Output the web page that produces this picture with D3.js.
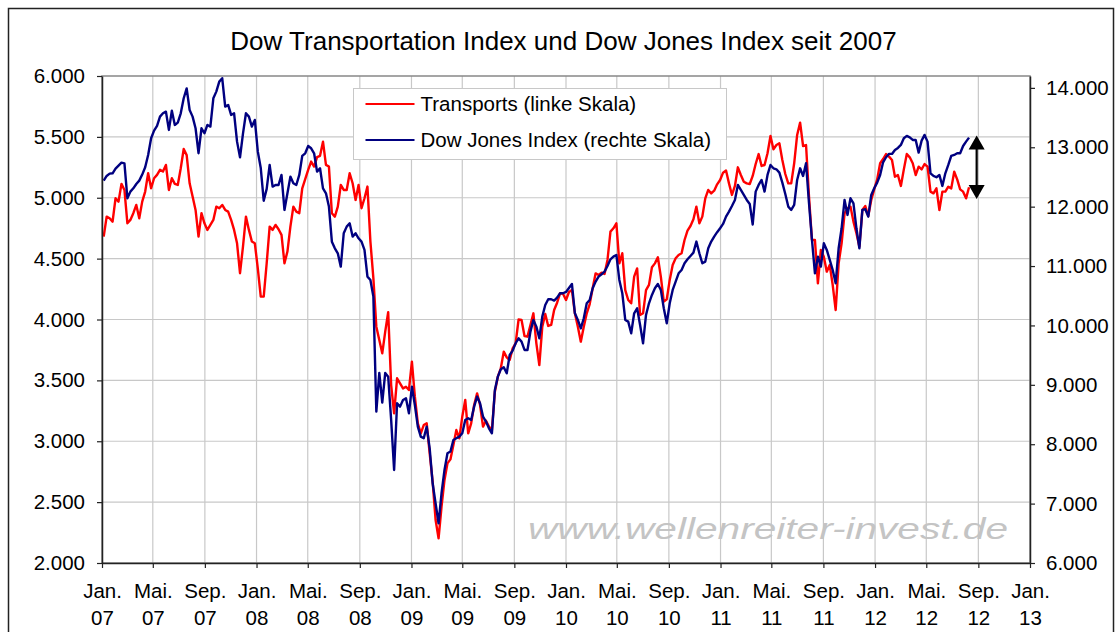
<!DOCTYPE html>
<html>
<head>
<meta charset="utf-8">
<script src="https://cdn.jsdelivr.net/npm/d3@7"></script>
<style>
  body { margin: 0; background: #fff; }
  svg { display: block; font-family: "Liberation Sans", Arial, sans-serif; }
</style>
</head>
<body>
<div id="chart"></div>
<script>
/* global d3 */

// weekly closes (Fridays), starting with the first week of 2007
const firstWeek = '2007-01-05'

const transports = [
  4681, 4845, 4832, 4804, 4996, 4968, 5114, 5064, 4790, 4818,
  4873, 4941, 4832, 4968, 5051, 5201, 5078, 5160, 5188, 5229,
  5215, 5270, 5064, 5160, 5114, 5105, 5242, 5400, 5350, 5119,
  5010, 4900, 4681, 4873, 4790, 4736, 4777, 4818, 4927, 4914,
  4941, 4900, 4886, 4818, 4736, 4626, 4380, 4599, 4845, 4736,
  4640, 4626, 4420, 4188, 4188, 4462, 4763, 4736, 4777, 4741,
  4695, 4462, 4558, 4763, 4927, 4886, 4873, 5078, 5152, 5229,
  5297, 5256, 5333, 5344, 5461, 5270, 5256, 4873, 4845, 4927,
  5105, 5064, 5064, 5201, 5119, 4982, 5105, 4914, 4996, 5092,
  4640, 4340, 3941, 3831, 3722, 3900, 4060, 3462, 3229, 3517,
  3476, 3434, 3448, 3421, 3654, 3366, 3147, 3065, 3133, 3147,
  2900, 2668, 2353, 2202, 2462, 2682, 2818, 2851, 2969, 3092,
  3024, 3202, 3339, 3065, 3147, 3298, 3393, 3298, 3120, 3169,
  3120, 3092, 3407, 3530, 3599, 3736, 3689, 3667, 3763, 3804,
  4000, 3996, 3864, 3859, 3955, 4051, 3804, 3626, 3941, 4045,
  3947, 3955, 4078, 4138, 4215, 4212, 4160, 4226, 4242, 4051,
  3941, 3818, 3941, 4051, 4127, 4256, 4379, 4366, 4385, 4374,
  4489, 4722, 4749, 4790, 4461, 4544, 4242, 4160, 4133, 4352,
  4420, 4037, 4051, 4242, 4284, 4429, 4461, 4511, 4352, 4147,
  4166, 4325, 4448, 4503, 4530, 4544, 4653, 4730, 4768, 4823,
  4927, 4790, 4845, 4995, 5064, 5036, 5058, 5110, 5146, 5206,
  5223, 5118, 5023, 5097, 5250, 5187, 5132, 5118, 5113, 5179,
  5277, 5359, 5261, 5269, 5365, 5507, 5398, 5433, 5447, 5310,
  5195, 5118, 5118, 5283, 5516, 5617, 5425, 5433, 5009, 4653,
  4653, 4297, 4571, 4516, 4393, 4448, 4283, 4078, 4461, 4626,
  4872, 4913, 4927, 4804, 4708, 4598, 4899, 4932, 4850, 4982,
  5069, 5151, 5283, 5318, 5359, 5338, 5310, 5173, 5187, 5097,
  5233, 5359, 5332, 5283, 5187, 5255, 5233, 5277, 5255, 5050,
  5036, 5077, 4899, 5050, 5050, 5091, 5077, 5214, 5151, 5069,
  5050, 4995, 5086
]

const dowJones = [
  12438, 12517, 12556, 12562, 12641, 12691, 12742, 12730, 12141, 12253,
  12309, 12382, 12438, 12540, 12663, 12871, 13151, 13280, 13359, 13516,
  13572, 13600, 13292, 13617, 13376, 13415, 13572, 13825, 13990, 13628,
  13516, 13320, 12900, 13320, 13236, 13376, 13348, 13825, 13937, 14106,
  14162, 13685, 13713, 13544, 13572, 13095, 12830, 13230, 13572, 13516,
  13348, 13460, 12930, 12650, 12100, 12300, 12702, 12337, 12365, 12365,
  12534, 11945, 12225, 12506, 12394, 12365, 12534, 12854, 12899, 13022,
  12983, 12899, 12590, 12646, 12309, 12225, 12001, 11411, 11299, 11215,
  10990, 11552, 11664, 11720, 11496, 11552, 11467, 11411, 11271, 10822,
  10766, 10485, 8550, 9200, 8700, 9200, 9138, 8409, 7567, 8689,
  8633, 8745, 8773, 8521, 8970, 8661, 8296, 8128, 8100, 8296,
  7931, 7342, 7005, 6669, 7174, 7567, 7847, 7876, 8072, 8100,
  8128, 8184, 8409, 8437, 8409, 8633, 8802, 8689, 8465, 8381,
  8268, 8184, 8914, 9138, 9262, 9296, 9194, 9503, 9576, 9700,
  9784, 9728, 9587, 9587, 9896, 10093, 9980, 9784, 10149, 10345,
  10441, 10441, 10418, 10469, 10542, 10542, 10564, 10631, 10699, 10205,
  10093, 9952, 10121, 10373, 10429, 10626, 10738, 10822, 10862, 10906,
  11002, 11114, 11159, 11187, 10766, 10542, 10093, 10064, 9868, 10205,
  10289, 10008, 9700, 10177, 10373, 10514, 10626, 10699, 10598, 10289,
  10036, 10373, 10598, 10738, 10878, 10934, 11047, 11114, 11170, 11226,
  11412, 11215, 11047, 11075, 11299, 11412, 11496, 11570, 11636, 11709,
  11832, 11917, 12012, 12113, 12366, 12281, 12197, 12113, 12046, 11700,
  12253, 12366, 12450, 12253, 12534, 12702, 12646, 12629, 12573, 12405,
  12214, 12001, 11945, 12029, 12450, 12646, 12517, 12731, 12057, 11440,
  10878, 11159, 10990, 11383, 11271, 11103, 10934, 10710, 11299, 11636,
  12113, 11861, 12141, 12057, 11636, 11299, 11945, 11956, 11832, 12197,
  12310, 12405, 12534, 12747, 12832, 12888, 12888, 12955, 12989, 13039,
  13151, 13191, 13168, 13123, 13123, 12910, 13112, 13208, 13095, 12562,
  12517, 12495, 12534, 12349, 12562, 12702, 12854, 12871, 12899, 12899,
  13022, 13095, 13163
]

const leftTicks = [2000, 2500, 3000, 3500, 4000, 4500, 5000, 5500, 6000]
const rightTicks = [6000, 7000, 8000, 9000, 10000, 11000, 12000, 13000, 14000]
const monthNames = ['Jan.', 'Mai.', 'Sep.']
const seriesNames = ['Transports (linke Skala)', 'Dow Jones Index (rechte Skala)']
const chartTitle = 'Dow Transportation Index und Dow Jones Index seit 2007'
const watermark = 'www.wellenreiter-invest.de'

// spread arrow: date, Dow level (right scale) and Transports level (left scale)
const spreadDate = '2012-08-28'
const spreadDow = 13200
const spreadTrans = 4990

// Our canvas
const width = 1115,
      height = 632,
      plotLeft = 102,
      plotRight = 1030,
      plotTop = 76,
      plotBottom = 563

const svg = d3.select('#chart')
  .append('svg')
  .attr('width', width)
  .attr('height', height)

const de = d3.formatLocale({ decimal: ',', thousands: '.', grouping: [3], currency: ['', ' €'] })
const fmt = de.format(',.0f')
const parse = d3.utcParse('%Y-%m-%d')

const start = parse(firstWeek)
const weeks = transports.map((d, i) => d3.utcDay.offset(start, i * 7))

// Scales
const x = d3.scaleUtc()
  .domain([new Date(Date.UTC(2007, 0, 1)), new Date(Date.UTC(2013, 0, 1))])
  .range([plotLeft, plotRight])

const yLeft = d3.scaleLinear()
  .domain([2000, 6000])
  .range([plotBottom, plotTop])

const yRight = d3.scaleLinear()
  .domain([6000, 14200])
  .range([plotBottom, plotTop])

const xTicks = d3.utcMonth.every(4).range(x.domain()[0], d3.utcDay.offset(x.domain()[1], 1))

// outer frame
svg.append('rect')
  .attr('x', 8.5).attr('y', 8.5)
  .attr('width', 1105).attr('height', 700)
  .attr('fill', '#fff')
  .attr('stroke', '#222')
  .attr('stroke-width', 1.5)

// title
svg.append('text')
  .attr('x', 563.5).attr('y', 50)
  .attr('text-anchor', 'middle')
  .attr('font-size', 26)
  .attr('fill', '#000')
  .text(chartTitle)

// gridlines
const grid = svg.append('g')
  .attr('stroke', '#c8c8c8')
  .attr('stroke-width', 1.2)

grid.selectAll('.h')
  .data(leftTicks.slice(1, -1))
  .enter().append('line')
  .attr('x1', plotLeft).attr('x2', plotRight)
  .attr('y1', d => yLeft(d)).attr('y2', d => yLeft(d))

grid.selectAll('.v')
  .data(xTicks.slice(1, -1))
  .enter().append('line')
  .attr('y1', plotTop).attr('y2', plotBottom)
  .attr('x1', d => x(d)).attr('x2', d => x(d))

// plot border (top edge shows in grey)
svg.append('rect')
  .attr('x', plotLeft).attr('y', plotTop)
  .attr('width', plotRight - plotLeft).attr('height', plotBottom - plotTop)
  .attr('fill', 'none')
  .attr('stroke', '#888')
  .attr('stroke-width', 1.5)

// watermark
svg.append('text')
  .attr('x', 528).attr('y', 539)
  .attr('font-size', 30)
  .attr('font-style', 'italic')
  .attr('fill', '#c4c4c4')
  .attr('textLength', 480)
  .attr('lengthAdjust', 'spacingAndGlyphs')
  .text(watermark)

// lines
const transLine = d3.line()
  .x((d, i) => x(weeks[i]))
  .y(d => yLeft(d))

const dowLine = d3.line()
  .x((d, i) => x(weeks[i]))
  .y(d => yRight(d))

svg.append('path')
  .datum(transports)
  .attr('fill', 'none')
  .attr('stroke', '#ff0000')
  .attr('stroke-width', 2.4)
  .attr('stroke-linejoin', 'round')
  .attr('d', transLine)

svg.append('path')
  .datum(dowJones)
  .attr('fill', 'none')
  .attr('stroke', '#000080')
  .attr('stroke-width', 2.4)
  .attr('stroke-linejoin', 'round')
  .attr('d', dowLine)

// axes
const styleAxis = g => {
  g.select('.domain').attr('stroke', '#222').attr('stroke-width', 1.5)
  g.selectAll('.tick line').attr('stroke', '#222').attr('stroke-width', 1.2)
  g.selectAll('.tick text')
    .attr('font-family', '"Liberation Sans", Arial, sans-serif')
    .attr('font-size', 20.5)
    .attr('fill', '#000')
}

svg.append('g')
  .attr('transform', `translate(${plotLeft},0)`)
  .call(d3.axisLeft(yLeft)
    .tickValues(leftTicks)
    .tickFormat(fmt)
    .tickSize(5)
    .tickSizeOuter(0)
    .tickPadding(12))
  .call(styleAxis)

svg.append('g')
  .attr('transform', `translate(${plotRight},0)`)
  .call(d3.axisRight(yRight)
    .tickValues(rightTicks)
    .tickFormat(fmt)
    .tickSize(5)
    .tickSizeOuter(0)
    .tickPadding(11))
  .call(styleAxis)

const xAxis = svg.append('g')
  .attr('transform', `translate(0,${plotBottom})`)
  .call(d3.axisBottom(x)
    .tickValues(xTicks)
    .tickSize(5)
    .tickSizeOuter(0)
    .tickFormat(''))
  .call(styleAxis)

// two-line month / year labels
xAxis.selectAll('.tick text').each(function (d) {
  const t = d3.select(this).attr('y', null).attr('dy', null)
  t.append('tspan')
    .attr('x', 0).attr('y', 35)
    .text(monthNames[d.getUTCMonth() / 4])
  t.append('tspan')
    .attr('x', 0).attr('y', 62)
    .text(d3.utcFormat('%y')(d))
})

// legend
const legend = svg.append('g')
  .attr('transform', 'translate(353.5,88.5)')

legend.append('rect')
  .attr('width', 373).attr('height', 71)
  .attr('fill', '#fff')
  .attr('stroke', '#c8c8c8')
  .attr('stroke-width', 1)

const legendColors = ['#ff0000', '#000080']

seriesNames.forEach((name, i) => {
  legend.append('line')
    .attr('x1', 12).attr('x2', 61)
    .attr('y1', 15.5 + i * 36).attr('y2', 15.5 + i * 36)
    .attr('stroke', legendColors[i])
    .attr('stroke-width', 2)
  legend.append('text')
    .attr('x', 67).attr('y', 22.5 + i * 36)
    .attr('font-size', 20.5)
    .attr('fill', '#000')
    .text(name)
})

// spread arrow
const ax = x(parse(spreadDate)),
      aTop = yRight(spreadDow),
      aBot = yLeft(spreadTrans),
      head = 14,
      half = 8

svg.append('line')
  .attr('x1', ax).attr('x2', ax)
  .attr('y1', aTop + head - 1).attr('y2', aBot - head + 1)
  .attr('stroke', '#000')
  .attr('stroke-width', 2.2)

svg.append('path')
  .attr('d', `M${ax},${aTop}L${ax + half},${aTop + head}L${ax - half},${aTop + head}Z` +
             `M${ax},${aBot}L${ax + half},${aBot - head}L${ax - half},${aBot - head}Z`)
  .attr('fill', '#000')
</script>
</body>
</html>
